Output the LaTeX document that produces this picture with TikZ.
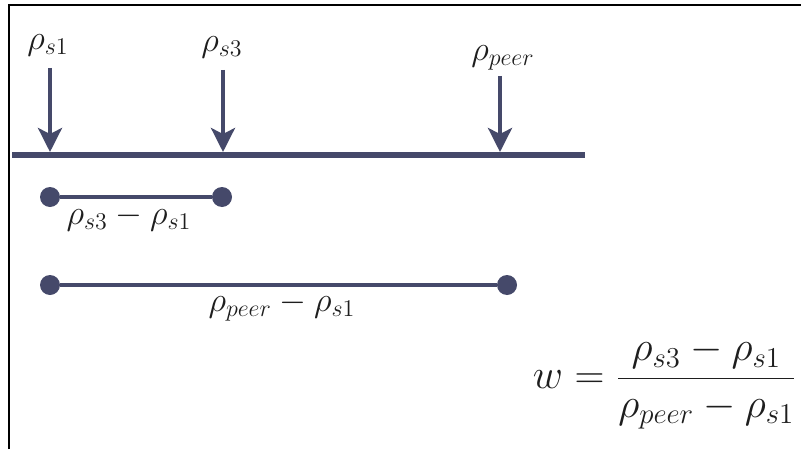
\documentclass[tikz,border=0pt]{standalone}
\usepackage{amsmath}
\usetikzlibrary{positioning,arrows.meta}
\definecolor{barblue}{RGB}{69,73,106}
\definecolor{inktext}{RGB}{30,30,30}

\begin{document}
\begin{tikzpicture}[x=0.5pt,y=-0.5pt,
  lbl/.style={font=\fontsize{18}{21}\selectfont,text=inktext,inner sep=1pt},
  frm/.style={font=\fontsize{21}{26}\selectfont,text=inktext,inner sep=1pt},
  pin/.style={line width=2pt,draw=barblue,-{Stealth[length=12pt,width=12pt,inset=3pt]}},
  span/.style={line width=2pt,draw=barblue},
  dotend/.style={circle,fill=barblue,inner sep=0pt,minimum size=10pt}]
\useasboundingbox (0,0) rectangle (801,449);
% frame, cut off at right and bottom
\draw[line width=1pt] (9,449) -- (9,5) -- (801,5);
% the line
\draw[line width=3pt,draw=barblue] (12,155) coordinate (axL) -- (585,155) coordinate (axR);
% positions on the line
\node[lbl] (rs1) at (48,45) {$\rho_{s1}$};
\node[lbl] (rs3) at (222,47) {$\rho_{s3}$};
\node[lbl] (rpeer) at (503,58) {$\rho_{peer}$};
\coordinate (top1) at (50,68);  \coordinate (hit1) at (50,152);
\coordinate (top3) at (223,70); \coordinate (hit3) at (223,152);
\coordinate (topp) at (500,76); \coordinate (hitp) at (500,152);
\draw[pin] (top1) -- (hit1);
\draw[pin] (top3) -- (hit3);
\draw[pin] (topp) -- (hitp);
% distances
\node[dotend] (a1) at (50,197) {};
\node[dotend] (b1) at (222,197) {};
\draw[span] (a1) -- (b1);
\node[lbl] (d1) at (129,218) {$\rho_{s3}-\rho_{s1}$};
\node[dotend] (a2) at (50,285) {};
\node[dotend] (b2) at (507,285) {};
\draw[span] (a2) -- (b2);
\node[lbl] (d2) at (282,306) {$\rho_{peer}-\rho_{s1}$};
% weight
\node[frm,anchor=east] (wfrac) at (799,383) {$w=\dfrac{\rho_{s3}-\rho_{s1}}{\rho_{peer}-\rho_{s1}}$};
\end{tikzpicture}
\end{document}
